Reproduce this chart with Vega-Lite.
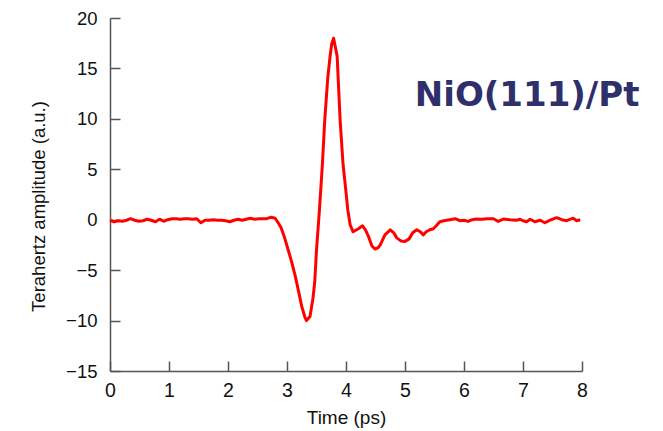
{
  "$schema": "https://vega.github.io/schema/vega-lite/v6.json",
  "width": 472,
  "height": 353,
  "autosize": {"type": "none"},
  "padding": {"left": 110, "top": 18, "right": 81, "bottom": 60},
  "background": "white",
  "config": {"view": {"stroke": null}},
  "datasets": {
    "wave": [
      {"t": 0.00, "v": -0.05}, {"t": 0.07, "v": -0.2}, {"t": 0.14, "v": -0.1}, {"t": 0.21, "v": -0.15},
      {"t": 0.28, "v": -0.05}, {"t": 0.35, "v": 0.1}, {"t": 0.42, "v": -0.05}, {"t": 0.49, "v": -0.15},
      {"t": 0.56, "v": -0.1}, {"t": 0.63, "v": 0.05}, {"t": 0.70, "v": -0.05}, {"t": 0.77, "v": -0.2},
      {"t": 0.84, "v": 0.05}, {"t": 0.91, "v": -0.15}, {"t": 0.98, "v": 0.0}, {"t": 1.05, "v": 0.1},
      {"t": 1.12, "v": 0.1}, {"t": 1.19, "v": 0.05}, {"t": 1.26, "v": 0.1}, {"t": 1.33, "v": 0.1},
      {"t": 1.40, "v": 0.05}, {"t": 1.47, "v": 0.1}, {"t": 1.54, "v": -0.3}, {"t": 1.61, "v": -0.05},
      {"t": 1.68, "v": -0.05}, {"t": 1.75, "v": 0.0}, {"t": 1.82, "v": -0.05}, {"t": 1.89, "v": -0.05},
      {"t": 1.96, "v": -0.1}, {"t": 2.03, "v": -0.2}, {"t": 2.10, "v": -0.05}, {"t": 2.17, "v": 0.05},
      {"t": 2.24, "v": -0.05}, {"t": 2.31, "v": 0.05}, {"t": 2.38, "v": 0.15}, {"t": 2.45, "v": 0.05},
      {"t": 2.52, "v": 0.1}, {"t": 2.59, "v": 0.1}, {"t": 2.66, "v": 0.1}, {"t": 2.73, "v": 0.25},
      {"t": 2.80, "v": 0.15}, {"t": 2.85, "v": -0.3}, {"t": 2.90, "v": -0.8}, {"t": 2.96, "v": -1.8},
      {"t": 3.02, "v": -3.0}, {"t": 3.08, "v": -4.2}, {"t": 3.14, "v": -5.6}, {"t": 3.20, "v": -7.2},
      {"t": 3.25, "v": -8.6}, {"t": 3.30, "v": -9.6}, {"t": 3.33, "v": -10.0}, {"t": 3.39, "v": -9.6},
      {"t": 3.44, "v": -7.8}, {"t": 3.47, "v": -6.2}, {"t": 3.50, "v": -3.0}, {"t": 3.55, "v": 1.0},
      {"t": 3.60, "v": 5.5}, {"t": 3.64, "v": 9.9}, {"t": 3.69, "v": 14.0}, {"t": 3.73, "v": 16.2},
      {"t": 3.76, "v": 17.5}, {"t": 3.79, "v": 18.0}, {"t": 3.85, "v": 16.2}, {"t": 3.90, "v": 9.9},
      {"t": 3.95, "v": 5.5}, {"t": 3.99, "v": 3.3}, {"t": 4.03, "v": 1.0}, {"t": 4.07, "v": -0.5},
      {"t": 4.12, "v": -1.2}, {"t": 4.21, "v": -0.9}, {"t": 4.28, "v": -0.6}, {"t": 4.33, "v": -1.0},
      {"t": 4.38, "v": -1.65}, {"t": 4.44, "v": -2.6}, {"t": 4.49, "v": -2.9}, {"t": 4.54, "v": -2.8},
      {"t": 4.58, "v": -2.5}, {"t": 4.66, "v": -1.5}, {"t": 4.75, "v": -1.0}, {"t": 4.81, "v": -1.3},
      {"t": 4.86, "v": -1.8}, {"t": 4.93, "v": -2.1}, {"t": 5.00, "v": -2.15}, {"t": 5.07, "v": -1.9},
      {"t": 5.13, "v": -1.3}, {"t": 5.20, "v": -1.0}, {"t": 5.26, "v": -1.2}, {"t": 5.31, "v": -1.5},
      {"t": 5.36, "v": -1.2}, {"t": 5.42, "v": -1.0}, {"t": 5.48, "v": -0.9}, {"t": 5.53, "v": -0.6},
      {"t": 5.59, "v": -0.2}, {"t": 5.66, "v": -0.1}, {"t": 5.76, "v": 0.0}, {"t": 5.85, "v": 0.1},
      {"t": 5.93, "v": -0.1}, {"t": 6.00, "v": -0.05}, {"t": 6.07, "v": -0.17}, {"t": 6.14, "v": 0.0},
      {"t": 6.21, "v": 0.07}, {"t": 6.30, "v": 0.05}, {"t": 6.40, "v": 0.1}, {"t": 6.50, "v": 0.1},
      {"t": 6.58, "v": -0.17}, {"t": 6.67, "v": 0.07}, {"t": 6.78, "v": 0.0}, {"t": 6.89, "v": -0.05},
      {"t": 6.95, "v": 0.05}, {"t": 7.00, "v": -0.1}, {"t": 7.06, "v": -0.2}, {"t": 7.12, "v": 0.05},
      {"t": 7.20, "v": -0.2}, {"t": 7.29, "v": -0.05}, {"t": 7.37, "v": -0.3}, {"t": 7.46, "v": -0.05},
      {"t": 7.57, "v": 0.2}, {"t": 7.66, "v": 0.0}, {"t": 7.74, "v": -0.1}, {"t": 7.85, "v": 0.15},
      {"t": 7.91, "v": -0.1}, {"t": 7.97, "v": 0.0}
    ],
    "label": [{"t": 7.07, "v": 12.3, "text": "NiO(111)/Pt"}]
  },
  "layer": [
    {
      "data": {"name": "wave"},
      "mark": {"type": "line", "color": "#ff0000", "strokeWidth": 3, "strokeJoin": "round"},
      "encoding": {
        "x": {
          "field": "t", "type": "quantitative",
          "scale": {"domain": [0, 8], "nice": false, "zero": false},
          "axis": {
            "title": "Time (ps)", "values": [0, 1, 2, 3, 4, 5, 6, 7, 8], "format": "d",
            "grid": false, "tickSize": -10, "labelPadding": 20,
            "domainColor": "#555555", "tickColor": "#555555", "domainWidth": 1.5, "tickWidth": 1.5,
            "labelFont": "Liberation Sans", "labelFontSize": 19.5, "labelColor": "#111111",
            "labelFlush": false,
            "titleFont": "Liberation Sans", "titleFontSize": 19, "titleFontWeight": "normal",
            "titleColor": "#111111", "titlePadding": 9
          }
        },
        "y": {
          "field": "v", "type": "quantitative",
          "scale": {"domain": [-15, 20], "nice": false, "zero": false},
          "axis": {
            "title": "Terahertz amplitude (a.u.)", "values": [-15, -10, -5, 0, 5, 10, 15, 20],
            "grid": false, "tickSize": -10, "labelPadding": 23,
            "domainColor": "#555555", "tickColor": "#555555", "domainWidth": 1.5, "tickWidth": 1.5,
            "labelFont": "Liberation Sans", "labelFontSize": 18.5, "labelColor": "#111111",
            "labelFlush": false,
            "titleFont": "Liberation Sans", "titleFontSize": 18.5, "titleFontWeight": "normal",
            "titleColor": "#111111", "titlePadding": 17, "titleY": 188
          }
        }
      }
    },
    {
      "data": {"name": "label"},
      "mark": {"type": "text", "font": "DejaVu Sans", "fontSize": 34, "fontWeight": "bold", "color": "#2f2f6b", "align": "center", "baseline": "middle"},
      "encoding": {
        "x": {"field": "t", "type": "quantitative"},
        "y": {"field": "v", "type": "quantitative"},
        "text": {"field": "text"}
      }
    }
  ]
}
